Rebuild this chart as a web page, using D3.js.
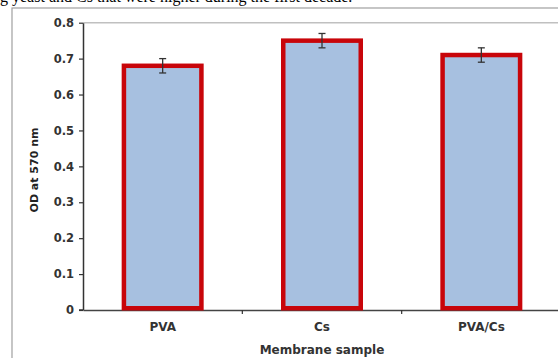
<!DOCTYPE html>
<html>
<head>
<meta charset="utf-8">
<script src="https://cdn.jsdelivr.net/npm/d3@7"></script>
<style>
html,body{margin:0;padding:0;background:#fff;overflow:hidden;}
svg{display:block;}
</style>
</head>
<body>
<script>
const categories = ["PVA", "Cs", "PVA/Cs"];
const values = [0.68, 0.75, 0.71];
const errors = [0.02, 0.02, 0.02];
const yTicks = [0, 0.1, 0.2, 0.3, 0.4, 0.5, 0.6, 0.7, 0.8];
const yTitle = "OD at 570 nm";
const xTitle = "Membrane sample";
const topText = "g yeast and Cs that were higher during the first decade.";

const W = 558, H = 358;
const svg = d3.select("body").append("svg").attr("width", W).attr("height", H);

// clipped text line from the surrounding document
svg.append("text").attr("x", 0).attr("y", 1.5)
  .attr("font-family", "Liberation Serif").attr("font-size", 16)
  .attr("fill", "#000").text(topText);

// outer frame
svg.append("rect").attr("x", 12).attr("y", 8).attr("width", 600).attr("height", 400)
  .attr("fill", "none").attr("stroke", "#a0a0a0").attr("stroke-width", 1.2);

const m = {left: 83, top: 22.7, right: 561, bottom: 310};
const x = d3.scaleBand().domain(categories).range([m.left, m.right]).paddingInner(0).paddingOuter(0);
const y = d3.scaleLinear().domain([0, 0.8]).range([m.bottom, m.top]);

// top gridline at 0.8
svg.append("line").attr("x1", m.left).attr("x2", W + 5)
  .attr("y1", y(0.8)).attr("y2", y(0.8)).attr("stroke", "#c0c0c0").attr("stroke-width", 1.5);

const font = "DejaVu Sans";

// y axis
const yAxis = svg.append("g").attr("transform", `translate(${m.left},0)`)
  .call(d3.axisLeft(y).tickValues(yTicks).tickSize(4).tickSizeOuter(0)
    .tickFormat(d => d === 0 ? "0" : d3.format(".1f")(d)));
yAxis.select(".domain").attr("stroke", "#333").attr("stroke-width", 1.5);
yAxis.selectAll(".tick line").attr("stroke", "#333").attr("stroke-width", 1.2);
yAxis.selectAll(".tick text").attr("font-family", font).attr("font-weight", "bold")
  .attr("font-size", 11.5).attr("fill", "#333").attr("x", -9);

// x axis
const xAxis = svg.append("g").attr("transform", `translate(0,${m.bottom})`)
  .call(d3.axisBottom(x).tickSize(0).tickSizeOuter(0).tickPadding(12));
xAxis.select(".domain").attr("stroke", "#444").attr("stroke-width", 1.5);
xAxis.selectAll(".tick text").attr("font-family", font).attr("font-weight", "bold")
  .attr("font-size", 12).attr("fill", "#333");
// category separator ticks
svg.append("g").selectAll("line").data(categories.slice(1)).join("line")
  .attr("x1", d => x(d)).attr("x2", d => x(d))
  .attr("y1", m.bottom).attr("y2", m.bottom + 4)
  .attr("stroke", "#333").attr("stroke-width", 1.2);
svg.append("line").attr("x1", m.left - 4).attr("x2", m.left)
  .attr("y1", m.bottom).attr("y2", m.bottom).attr("stroke", "#333").attr("stroke-width", 1.5);

// bars
const sw = 4.5;
const barOuter = 82;
const barW = barOuter - sw;
svg.append("g").selectAll("rect").data(categories).join("rect")
  .attr("x", d => x(d) + x.bandwidth() / 2 - barW / 2)
  .attr("width", barW)
  .attr("y", (d, i) => y(values[i]))
  .attr("height", (d, i) => y(0) - y(values[i]) - sw / 2 + 0.5)
  .attr("fill", "#a7c0e0").attr("stroke", "#c8050a").attr("stroke-width", sw);

// error bars
const eg = svg.append("g").attr("stroke", "#333").attr("stroke-width", 1.3);
categories.forEach((c, i) => {
  const cx = x(c) + x.bandwidth() / 2;
  const y1 = y(values[i] + errors[i]), y2 = y(values[i] - errors[i]);
  eg.append("line").attr("x1", cx).attr("x2", cx).attr("y1", y1).attr("y2", y2);
  eg.append("line").attr("x1", cx - 3.5).attr("x2", cx + 3.5).attr("y1", y1).attr("y2", y1);
  eg.append("line").attr("x1", cx - 3.5).attr("x2", cx + 3.5).attr("y1", y2).attr("y2", y2);
});

// titles
svg.append("text").attr("transform", `translate(38,170) rotate(-90)`)
  .attr("text-anchor", "middle").attr("font-family", font).attr("font-size", 11)
  .attr("font-weight", 600).attr("fill", "#222").text(yTitle);
svg.append("text").attr("x", 322).attr("y", 354).attr("text-anchor", "middle")
  .attr("font-family", font).attr("font-weight", "bold").attr("font-size", 12)
  .attr("fill", "#333").text(xTitle);
</script>
</body>
</html>
